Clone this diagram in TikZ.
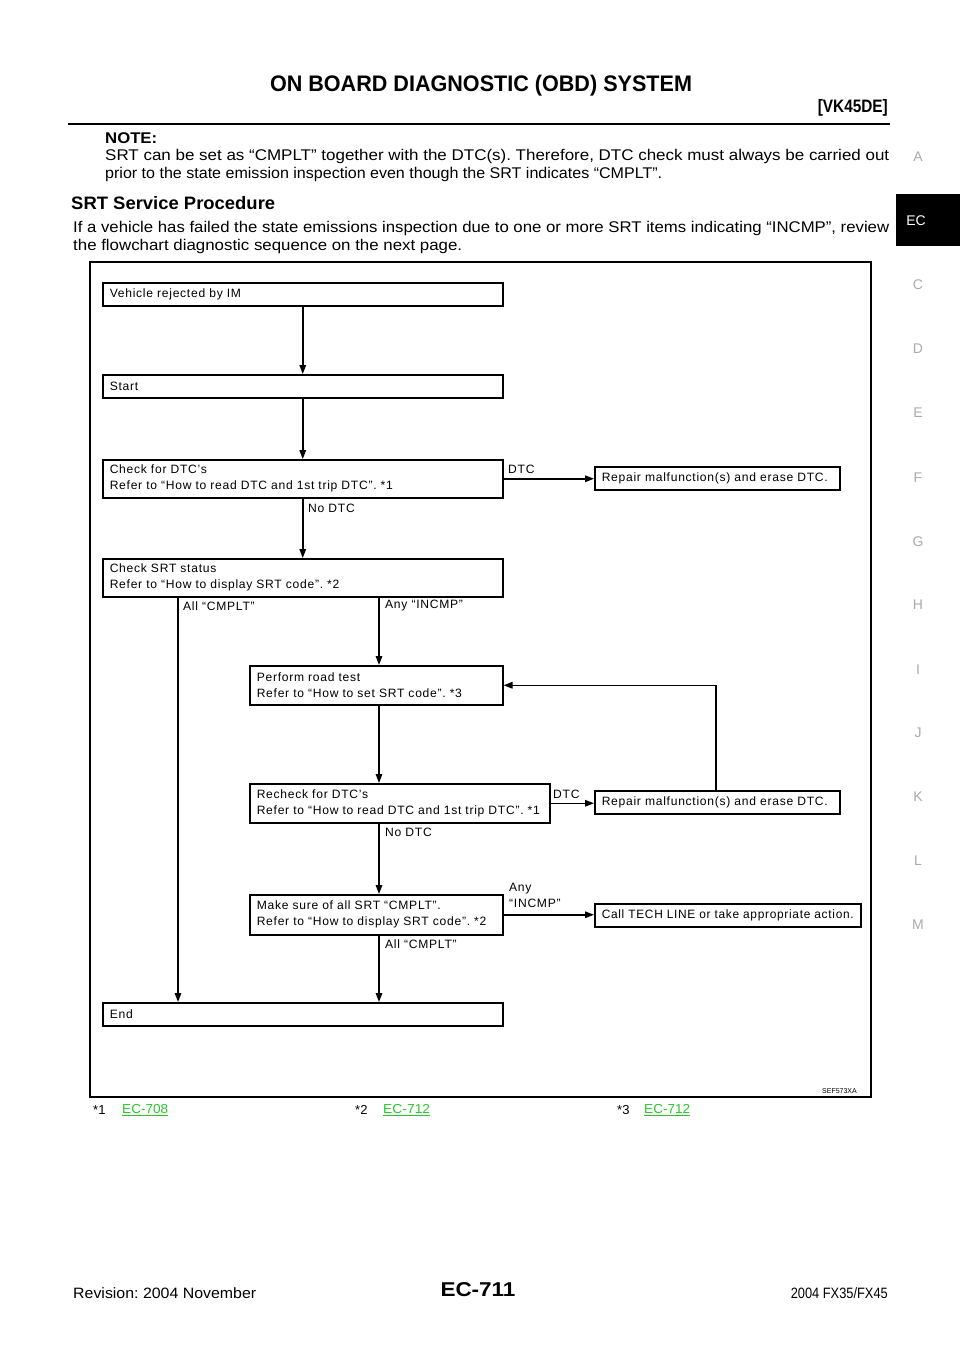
\documentclass[tikz,border=0pt]{standalone}
\usepackage{fontspec}
\usepackage{graphicx}
\setmainfont{Liberation Sans}
\newfontfamily\fcfont[LetterSpace=6]{Liberation Sans}
\usetikzlibrary{arrows.meta,calc}
\definecolor{linkgreen}{RGB}{40,200,40}
\definecolor{sidegray}{RGB}{170,170,170}
\newcommand{\fitw}[2]{\resizebox{#1}{\height}{#2}}
\frenchspacing
\tikzset{
  fc/.style={font=\fcfont\fontsize{12.1}{16}\selectfont},
  box/.style={fc, draw, line width=1.5pt, anchor=north west, align=left, inner xsep=7pt, inner ysep=0pt},
  arr/.style={line width=1.5pt, -{Triangle[length=9pt,width=6.5pt]}},
  lbl/.style={fc, anchor=west, inner sep=0pt},
  side/.style={font=\fontsize{14}{16}\selectfont, text=sidegray, inner sep=0pt},
  body/.style={anchor=west, inner sep=0pt, font=\fontsize{15.5}{18}\selectfont},
}
\begin{document}
\frenchspacing
\begin{tikzpicture}[x=1pt,y=-1pt]
\useasboundingbox[fill=white] (0,0) rectangle (960,1358);
% header
\node[inner sep=0pt, font=\bfseries\fontsize{22.5}{24}\selectfont] (title) at (481,86) {\fitw{422pt}{ON BOARD DIAGNOSTIC (OBD) SYSTEM}};
\node[inner sep=0pt, anchor=east, font=\bfseries\fontsize{18}{20}\selectfont] (model) at (888,108) {\fitw{70pt}{[VK45DE]}};
\draw[line width=2.6pt] (68,124) coordinate (ruleL) -- (890,124) coordinate (ruleR);
\node[body, font=\bfseries\fontsize{15.5}{18}\selectfont] (note) at (105,138) {\fitw{52pt}{NOTE:}};
\node[body] (n1) at (105,156) {\fitw{784pt}{SRT can be set as “CMPLT” together with the DTC(s). Therefore, DTC check must always be carried out}};
\node[body] (n2) at (105,174) {\fitw{557pt}{prior to the state emission inspection even though the SRT indicates “CMPLT”.}};
\node[body, font=\bfseries\fontsize{18}{20}\selectfont] (sec) at (71,203) {\fitw{204pt}{SRT Service Procedure}};
\node[body] (p1) at (73,228) {\fitw{816pt}{If a vehicle has failed the state emissions inspection due to one or more SRT items indicating “INCMP”, review}};
\node[body] (p2) at (73,246) {\fitw{389pt}{the flowchart diagnostic sequence on the next page.}};
% sidebar
\fill[black] (896,194) rectangle (960,246);
\node[inner sep=0pt, text=white, font=\fontsize{14}{16}\selectfont] (tabEC) at (916,221) {EC};
\foreach \l/\y in {A/157,C/285,D/349,E/413,F/478,G/542,H/605,I/670,J/733,K/797,L/861,M/925}
  \node[side] (tab\l) at (918,\y) {\l};
% frame
\draw[line width=1.5pt] (90,262) rectangle (871,1097);
\node[inner sep=0pt, anchor=east, font=\fontsize{7}{8}\selectfont] (sef) at (857,1091) {SEF573XA};
% boxes
\node[box, text width=386pt, minimum height=23pt] (b1) at (102,282) {Vehicle rejected by IM};
\node[box, text width=386pt, minimum height=23pt] (b2) at (102,374) {Start};
\node[box, text width=386pt, minimum height=38pt] (b3) at (102,459) {Check for DTC’s\\Refer to “How to read DTC and 1st trip DTC”. *1};
\node[box, text width=231pt, minimum height=23pt] (r1) at (594,466) {Repair malfunction(s) and erase DTC.};
\node[box, text width=386pt, minimum height=38pt] (b4) at (102,558) {Check SRT status\\Refer to “How to display SRT code”. *2};
\node[box, text width=239pt, minimum height=39pt] (b5) at (249,665) {Perform road test\\Refer to “How to set SRT code”. *3};
\node[box, text width=286pt, minimum height=39pt] (b6) at (249,783) {Recheck for DTC’s\\Refer to “How to read DTC and 1st trip DTC”. *1};
\node[box, text width=231pt, minimum height=23pt] (r2) at (594,790) {Repair malfunction(s) and erase DTC.};
\node[box, text width=239pt, minimum height=40pt] (b7) at (249,894) {Make sure of all SRT “CMPLT”.\\Refer to “How to display SRT code”. *2};
\node[box, text width=252pt, minimum height=23pt] (call) at (594,903) {\fitw{252pt}{Call TECH LINE or take appropriate action.}};
\node[box, text width=386pt, minimum height=23pt] (end) at (102,1002) {End};
% connectors
\draw[arr] (b1.south) -- (b2.north);
\draw[arr] (b2.south) -- (b3.north);
\draw[arr] (b3.south) -- (b4.north);
\draw[arr] (b3.east) -- (b3.east -| r1.west);
\draw[arr] ([xshift=76pt]b4.south west) -- ([xshift=76pt]end.north west);
\draw[arr] ([xshift=277pt]b4.south west) -- ([xshift=130pt]b5.north west);
\draw[arr] ([xshift=130pt]b5.south west) -- ([xshift=130pt]b6.north west);
\draw[arr] ([xshift=130pt]b6.south west) -- ([xshift=130pt]b7.north west);
\draw[arr] ([xshift=130pt]b7.south west) -- ([xshift=277pt]end.north west);
\draw[arr] (b6.east) -- (b6.east -| r2.west);
\draw[arr] ([xshift=122pt]r2.north west) |- (b5.east);
\draw[arr] (b7.east) -- (b7.east -| call.west);
% labels
\node[lbl] (l1) at (508,469) {DTC};
\node[lbl] (l2) at (308,508) {No DTC};
\node[lbl] (l3) at (183,606) {All “CMPLT”};
\node[lbl] (l4) at (385,606) {Any “INCMP”};
\node[lbl] (l5) at (553,794) {DTC};
\node[lbl] (l6) at (385,832) {No DTC};
\node[lbl, anchor=north west, align=left] (l7) at (509,883) {Any\\“INCMP”};
\node[lbl] (l8) at (385,944) {All “CMPLT”};
% footnotes
\node[inner sep=0pt, anchor=west, font=\fontsize{13}{15}\selectfont] (f1) at (93,1110) {*1};
\node[inner sep=0pt, anchor=west, font=\fontsize{13}{15}\selectfont, text=linkgreen] (f1l) at (122,1110) {\fitw{46pt}{\underline{EC-708}}};
\node[inner sep=0pt, anchor=west, font=\fontsize{13}{15}\selectfont] (f2) at (355,1110) {*2};
\node[inner sep=0pt, anchor=west, font=\fontsize{13}{15}\selectfont, text=linkgreen] (f2l) at (383,1110) {\fitw{47pt}{\underline{EC-712}}};
\node[inner sep=0pt, anchor=west, font=\fontsize{13}{15}\selectfont] (f3) at (617,1110) {*3};
\node[inner sep=0pt, anchor=west, font=\fontsize{13}{15}\selectfont, text=linkgreen] (f3l) at (644,1110) {\fitw{46pt}{\underline{EC-712}}};
% footer
\node[inner sep=0pt, anchor=west, font=\fontsize{15}{17}\selectfont] (rev) at (73,1293) {\fitw{183pt}{Revision: 2004 November}};
\node[inner sep=0pt, font=\bfseries\fontsize{20}{22}\selectfont] (page) at (478,1290) {\fitw{75pt}{EC-711}};
\node[inner sep=0pt, anchor=east, font=\fontsize{15}{17}\selectfont] (car) at (888,1293) {\fitw{97pt}{2004 FX35/FX45}};
\end{tikzpicture}
\end{document}
